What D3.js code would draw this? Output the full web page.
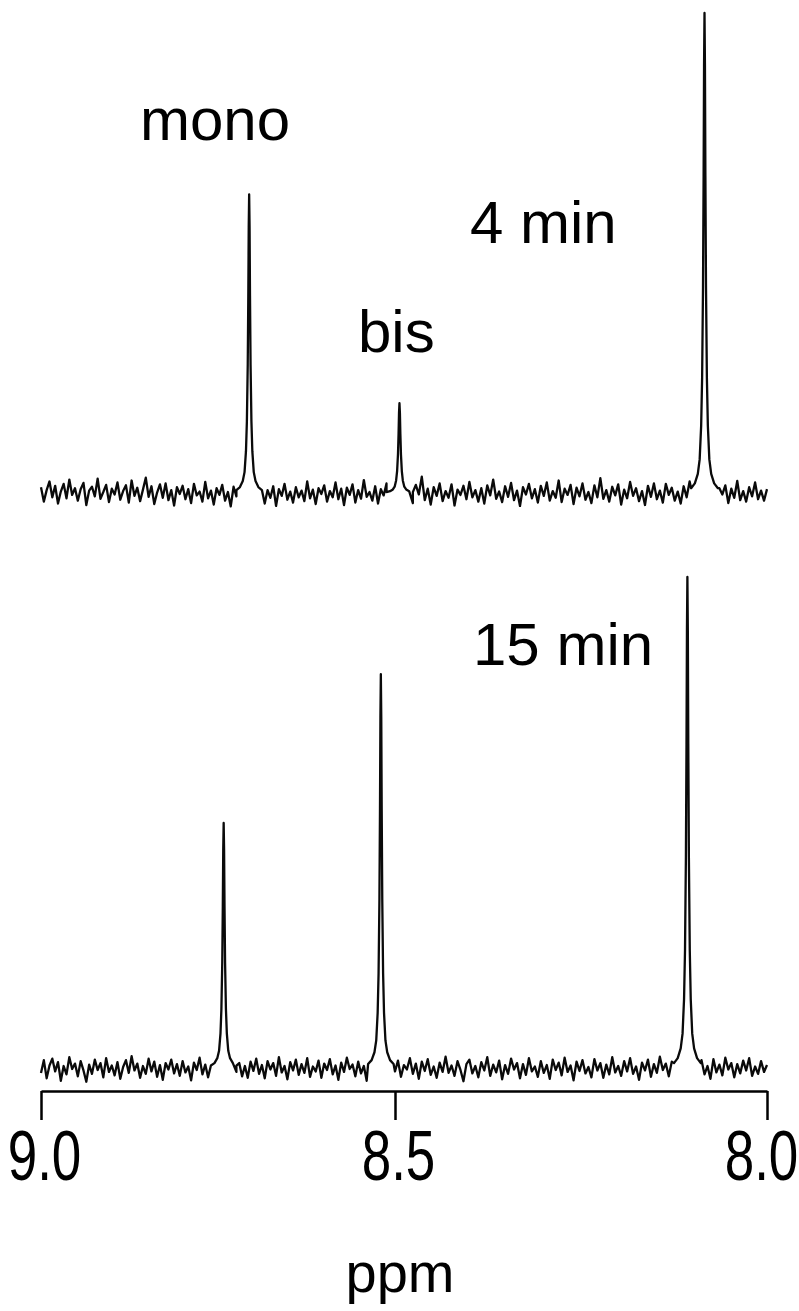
<!DOCTYPE html>
<html>
<head>
<meta charset="utf-8">
<script src="https://cdn.jsdelivr.net/npm/d3@7"></script>
<style>
  body { margin: 0; background: #fff; }
  text { font-family: "Liberation Sans", Arial, sans-serif; fill: #000; }
</style>
</head>
<body>
<div id="chart"></div>
<script>
const ppmTicks = [9.0, 8.5, 8.0];
const gridStep = 0.004; // sampling of the baseline noise, ppm

// peaks (ppm, height relative to tallest peak = 100)
const topPeakPpm = [8.706, 8.494, 8.084];
const topPeakHeight = [62.2, 18.7, 100];
const bottomPeakPpm = [8.742, 8.520, 8.107];
const bottomPeakHeight = [49.9, 80.2, 100];

// one side of the line shape, offset from peak centre (ppm) and relative height
const profileOffset = [0.018, 0.013, 0.009, 0.0065, 0.0045, 0.0032, 0.002, 0.0012, 0.0006, 0];
const profileRel = [0.01, 0.02, 0.04, 0.07, 0.14, 0.24, 0.43, 0.66, 0.89, 1];

// baseline noise, one value per grid step from 9.0 down to 8.0
const topNoise = [
  1.2,-1.8,0.6,2.4,-0.9,1.5,-2.2,0.3,1.9,-1.1,2.8,-0.4,1.0,-1.6,0.8,2.1,-2.5,0.5,1.3,-0.7,3.0,-1.2,0.2,1.7,-1.9,
  0.9,-0.3,2.2,-1.4,0.4,1.6,-2.0,2.6,-0.6,1.1,-1.7,0.7,3.2,-0.8,1.4,-2.3,0.1,1.8,-1.0,2.0,-1.5,0.6,-2.6,1.2,-0.2,
  1.5,-1.3,0.8,-2.1,1.9,-0.5,0.3,-1.8,2.3,-1.1,0.5,-2.4,1.0,-0.4,1.7,-1.6,0.2,-2.8,1.3,-0.7,0.9,-1.9,2.1,-1.2,0.4,
  -1.5,1.1,-0.3,2.0,-2.2,0.6,-1.0,1.4,-2.7,0.8,-0.6,1.9,-1.4,0.3,-2.0,1.2,-0.9,0.5,-1.7,2.4,-1.1,0.7,-2.3,1.0,-0.2,
  1.6,-1.8,0.4,-0.9,2.2,-1.3,0.9,-2.5,1.1,-0.4,1.8,-2.0,0.6,-1.2,2.7,-0.8,0.2,-1.6,1.4,-2.2,0.8,-0.5,2.0,-1.4,0.3,
  -1.9,1.3,-0.7,2.5,-1.1,0.5,-2.1,1.7,-0.3,3.4,-1.5,0.9,-2.4,1.2,-0.6,2.0,-1.7,0.4,-1.0,1.8,-2.6,0.7,-0.4,1.5,-1.3,
  2.3,-0.9,0.6,-1.8,1.0,-2.2,1.6,-0.5,2.8,-1.2,0.3,-1.9,1.4,-0.8,2.1,-1.5,0.5,-2.7,1.2,-0.3,1.9,-1.1,0.8,-2.0,1.5,
  -0.6,2.2,-1.6,0.4,-1.0,2.6,-1.9,0.9,-0.4,1.7,-2.3,1.1,-0.7,2.0,-1.4,0.2,-2.1,1.6,-0.9,3.1,-1.2,0.6,-1.8,1.3,-0.5,
  1.8,-2.4,0.7,-1.1,2.3,-0.6,1.0,-1.7,0.4,-2.5,1.5,-0.8,2.0,-1.3,0.5,-2.0,1.9,-0.4,1.1,-1.6,0.3,-2.2,1.4,-0.9,2.4,
  -1.2,0.6,-1.9,1.7,-0.5,2.1,-1.4,0.8,-2.6,1.0,-0.3,1.6,-2.1,0.9,-1.0,2.5,-1.5,0.4,-1.8,1.2,-0.7,2.2,-1.3,0.5,-1.6,
  0.8
];
const bottomNoise = [
  -1.0,1.6,-2.1,0.5,1.9,-0.7,1.2,-2.6,0.4,-1.3,2.2,-0.2,0.9,-1.7,1.4,-0.5,-2.8,0.7,-1.2,1.7,-0.4,1.0,-1.9,2.0,-0.8,
  0.5,-1.5,1.2,-2.2,0.2,1.6,-1.0,2.4,-0.5,0.9,-2.0,0.4,-1.2,1.9,-0.7,1.3,-1.8,0.6,-2.4,1.0,-0.3,1.7,-1.1,0.8,-1.6,
  1.4,-0.9,0.3,-2.5,1.1,-0.4,2.1,-1.3,0.7,-1.9,1.5,-0.6,0.2,-2.2,1.8,-1.0,0.5,-1.5,2.3,-0.8,1.0,-1.7,0.4,-2.0,1.3,
  -0.6,1.9,-1.2,0.6,-2.1,1.4,-0.3,1.0,-1.6,2.2,-0.9,0.4,-2.3,1.2,-0.5,1.7,-1.4,0.8,-1.0,2.0,-1.8,0.3,-0.7,1.5,-2.0,
  0.9,-0.4,1.8,-1.3,0.5,-2.4,1.1,-0.8,2.1,-0.2,0.7,-1.7,1.3,-1.1,0.4,-2.6,1.6,-0.5,1.0,-1.5,2.4,-0.9,0.2,-1.9,1.2,
  -0.7,1.5,-1.8,0.6,-0.3,2.0,-1.2,0.9,-2.2,1.3,-0.6,1.8,-1.4,0.3,-2.0,1.1,-0.8,2.3,-1.0,0.5,-1.6,1.4,-0.4,-2.7,0.8,
  1.7,-1.1,0.4,-1.9,1.2,-0.5,2.2,-1.6,0.7,-0.9,1.5,-2.3,0.6,-1.2,1.9,-0.3,1.0,-2.1,0.8,-1.4,2.0,-0.7,0.3,-1.8,1.4,
  -1.0,0.6,-2.2,1.7,-0.4,1.1,-1.5,2.1,-0.8,0.5,-2.5,1.3,-0.6,1.6,-1.1,0.2,-1.9,1.8,-0.5,1.0,-2.0,0.7,-1.3,2.2,-0.9,
  0.4,-1.6,1.4,-0.7,2.0,-1.2,0.3,-2.4,1.1,-0.5,1.7,-1.8,0.8,-1.0,2.3,-0.4,0.9,-1.7,1.3,-2.1,0.6,-0.8,1.9,-1.4,0.5,
  -2.0,1.2,-0.6,1.6,-1.3,0.4,-2.2,1.8,-0.9,0.7,-1.5,2.1,-0.3,1.0,-1.9,0.8,-1.1,1.5,-0.5,2.0,-1.6,0.3,-1.2,1.4,-0.8,
  0.6
];

const width = 799;
const height = 1311;

const svg = d3.select('#chart')
  .append('svg')
    .attr('width', width)
    .attr('height', height)
    .attr('viewBox', [0, 0, width, height]);

// ppm axis runs right to left
const xScale = d3.scaleLinear()
  .domain([9.0, 8.5, 8.0])
  .range([41, 395, 767]);

const yTop = d3.scaleLinear().domain([0, 100]).range([493, 13]);
const yBottom = d3.scaleLinear().domain([0, 100]).range([1068, 577]);

function buildTrace(noise, peakPpm, peakHeight) {
  const window = profileOffset[0];
  const points = [];
  noise.forEach((v, i) => {
    const ppm = 9.0 - i * gridStep;
    const nearPeak = peakPpm.some(p => Math.abs(ppm - p) <= window);
    if (!nearPeak) points.push({ppm: ppm, v: v});
  });
  peakPpm.forEach((p, k) => {
    profileOffset.forEach((off, j) => {
      points.push({ppm: p + off, v: peakHeight[k] * profileRel[j]});
      if (off > 0) points.push({ppm: p - off, v: peakHeight[k] * profileRel[j]});
    });
  });
  return points.sort((a, b) => b.ppm - a.ppm);
}

const topTrace = buildTrace(topNoise, topPeakPpm, topPeakHeight);
const bottomTrace = buildTrace(bottomNoise, bottomPeakPpm, bottomPeakHeight);

svg.append('path')
  .datum(topTrace)
    .attr('fill', 'none')
    .attr('stroke', '#0a0a0a')
    .attr('stroke-width', 2.3)
    .attr('stroke-linejoin', 'round')
    .attr('d', d3.line().x(d => xScale(d.ppm)).y(d => yTop(d.v)));

svg.append('path')
  .datum(bottomTrace)
    .attr('fill', 'none')
    .attr('stroke', '#0a0a0a')
    .attr('stroke-width', 2.3)
    .attr('stroke-linejoin', 'round')
    .attr('d', d3.line().x(d => xScale(d.ppm)).y(d => yBottom(d.v)));

const axis = svg.append('g')
  .attr('transform', 'translate(0, 1091)')
  .call(d3.axisBottom(xScale)
    .tickValues(ppmTicks)
    .tickSize(29)
    .tickSizeOuter(0)
    .tickFormat(d3.format('.1f')));

axis.select('.domain').attr('stroke', '#000').attr('stroke-width', 2.5);
axis.selectAll('.tick line').attr('stroke', '#000').attr('stroke-width', 2.5);
// tick labels are drawn tall and narrow in the original
axis.selectAll('.tick text')
  .attr('font-size', 53)
  .attr('fill', '#000')
  .attr('x', (d, i) => i === ppmTicks.length - 1 ? -6 : 3)
  .attr('y', 89 / 1.32)
  .attr('dy', 0)
  .attr('transform', 'scale(1,1.32)')
  .style('font-family', '"Liberation Sans", Arial, sans-serif');

svg.append('text').attr('x', 140).attr('y', 140).attr('font-size', 60).text('mono');
svg.append('text').attr('x', 470).attr('y', 243).attr('font-size', 60).text('4 min');
svg.append('text').attr('x', 358).attr('y', 352).attr('font-size', 60).text('bis');
svg.append('text').attr('x', 473).attr('y', 665).attr('font-size', 60).text('15 min');

svg.append('text')
  .attr('x', 400)
  .attr('y', 1292)
  .attr('text-anchor', 'middle')
  .attr('font-size', 56)
  .text('ppm');
</script>
</body>
</html>
